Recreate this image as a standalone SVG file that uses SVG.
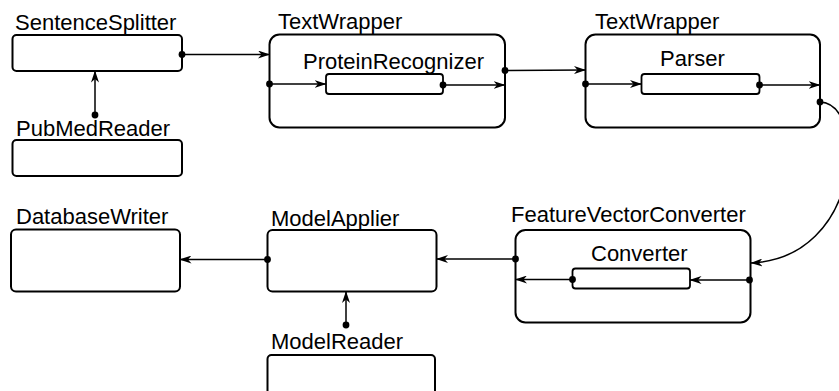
<svg xmlns="http://www.w3.org/2000/svg" width="839" height="391" viewBox="0 0 839 391">
  <style>
    .box { fill: #ffffff; stroke: #000000; stroke-width: 2; }
    .inner { fill: #ffffff; stroke: #000000; stroke-width: 1.8; }
    .label { font-family: "Liberation Sans", Arial, sans-serif; font-size: 22px; fill: #000000; }
    .edge { fill: none; stroke: #000000; stroke-width: 1.5; marker-end: url(#arrow); }
    .port { fill: #000000; }
  </style>
  <defs>
    <marker id="arrow" viewBox="0 0 12 8" refX="11.5" refY="4" markerWidth="12" markerHeight="8" markerUnits="userSpaceOnUse" orient="auto">
      <path d="M0,0 L12,4 L0,8 L3.5,4 Z" fill="#000000"/>
    </marker>
  </defs>

  <rect width="839" height="391" fill="#ffffff"/>

  <!-- components -->
  <g id="sentence-splitter">
    <text class="label" x="15" y="29.5">SentenceSplitter</text>
    <rect class="box" x="12.5" y="35" width="169.5" height="36" rx="4"/>
  </g>

  <g id="pubmed-reader">
    <text class="label" x="16" y="136">PubMedReader</text>
    <rect class="box" x="12.5" y="140" width="169.5" height="36" rx="4"/>
  </g>

  <g id="text-wrapper-1">
    <text class="label" x="278" y="28.5">TextWrapper</text>
    <rect class="box" x="269.5" y="34.5" width="235.5" height="93" rx="10"/>
    <g id="protein-recognizer">
      <text class="label" x="303" y="68.5">ProteinRecognizer</text>
      <rect class="inner" x="326" y="74" width="117" height="20" rx="3"/>
    </g>
  </g>

  <g id="text-wrapper-2">
    <text class="label" x="595" y="28.5">TextWrapper</text>
    <rect class="box" x="585.5" y="34.5" width="234.5" height="93" rx="10"/>
    <g id="parser">
      <text class="label" x="660" y="66">Parser</text>
      <rect class="inner" x="641.5" y="74" width="118" height="20" rx="3"/>
    </g>
  </g>

  <g id="feature-vector-converter">
    <text class="label" x="511" y="222">FeatureVectorConverter</text>
    <rect class="box" x="515.5" y="230" width="235" height="92.5" rx="10"/>
    <g id="converter">
      <text class="label" x="591" y="261">Converter</text>
      <rect class="inner" x="572.5" y="268.5" width="117.5" height="20" rx="3"/>
    </g>
  </g>

  <g id="model-applier">
    <text class="label" x="271" y="226">ModelApplier</text>
    <rect class="box" x="267.5" y="230" width="169" height="61.5" rx="5"/>
  </g>

  <g id="model-reader">
    <text class="label" x="271" y="348.5">ModelReader</text>
    <rect class="box" x="267.5" y="355" width="167.5" height="44" rx="4"/>
  </g>

  <g id="database-writer">
    <text class="label" x="16" y="224">DatabaseWriter</text>
    <rect class="box" x="11" y="229.5" width="169" height="62" rx="5"/>
  </g>

  <!-- connectors -->
  <g id="connectors">
    <path class="edge" d="M182,54.5 L269.5,54.5"/>
    <path class="edge" d="M95,115 L95,71"/>
    <path class="edge" d="M269.5,84 L326,84"/>
    <path class="edge" d="M443,85 L505,85"/>
    <path class="edge" d="M505,70.5 L585.5,70"/>
    <path class="edge" d="M585.5,84 L641.5,84"/>
    <path class="edge" d="M759.5,85 L820,85"/>
    <path class="edge" d="M820,102 C868,104 862,258 751,263"/>
    <path class="edge" d="M750.5,280 L690,280"/>
    <path class="edge" d="M572.5,279.5 L515.5,279.5"/>
    <path class="edge" d="M515.5,259 L436.5,259"/>
    <path class="edge" d="M267.5,259.5 L180,259.5"/>
    <path class="edge" d="M346,325 L346,291.5"/>

    <circle class="port" cx="182" cy="54.5" r="3.4"/>
    <circle class="port" cx="95" cy="115" r="3.4"/>
    <circle class="port" cx="269.5" cy="84" r="3.4"/>
    <circle class="port" cx="443" cy="85" r="3.4"/>
    <circle class="port" cx="505" cy="70.5" r="3.4"/>
    <circle class="port" cx="585.5" cy="84" r="3.4"/>
    <circle class="port" cx="759.5" cy="85" r="3.4"/>
    <circle class="port" cx="820" cy="102" r="3.4"/>
    <circle class="port" cx="749.5" cy="280" r="3.4"/>
    <circle class="port" cx="572.5" cy="279.5" r="3.4"/>
    <circle class="port" cx="515.5" cy="259" r="3.4"/>
    <circle class="port" cx="267.5" cy="259.5" r="3.4"/>
    <circle class="port" cx="346" cy="325" r="3.4"/>
  </g>
</svg>
